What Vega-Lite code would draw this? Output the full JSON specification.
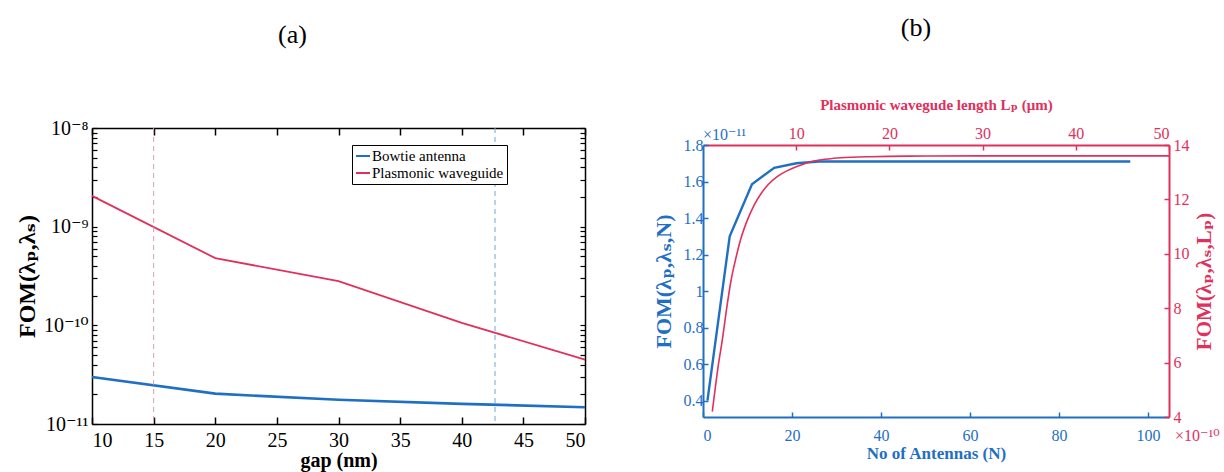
{
  "$schema": "https://vega.github.io/schema/vega-lite/v6.json",
  "background": "white",
  "padding": {"left": 15, "top": 15, "right": 5, "bottom": 2},
  "config": {
    "font": "Liberation Serif",
    "view": {"stroke": null},
    "axis": {"labelFont": "Liberation Serif, DejaVu Serif", "titleFont": "Liberation Serif, DejaVu Serif", "grid": false},
    "title": {"font": "Liberation Serif", "fontWeight": "normal", "fontSize": 26, "color": "black"}
  },
  "datasets": {
    "gap": [
      {"gap": 10, "fom": 3.0e-11, "series": "Bowtie antenna"},
      {"gap": 20, "fom": 2.03e-11, "series": "Bowtie antenna"},
      {"gap": 30, "fom": 1.76e-11, "series": "Bowtie antenna"},
      {"gap": 40, "fom": 1.6e-11, "series": "Bowtie antenna"},
      {"gap": 50, "fom": 1.48e-11, "series": "Bowtie antenna"},
      {"gap": 10, "fom": 2.05e-9, "series": "Plasmonic waveguide"},
      {"gap": 20, "fom": 4.8e-10, "series": "Plasmonic waveguide"},
      {"gap": 30, "fom": 2.8e-10, "series": "Plasmonic waveguide"},
      {"gap": 40, "fom": 1.06e-10, "series": "Plasmonic waveguide"},
      {"gap": 50, "fom": 4.5e-11, "series": "Plasmonic waveguide"}
    ],
    "antennas": [
      {"N": 1, "fom": 4.0e-12},
      {"N": 6, "fom": 1.30e-11},
      {"N": 11, "fom": 1.585e-11},
      {"N": 16, "fom": 1.675e-11},
      {"N": 21, "fom": 1.70e-11},
      {"N": 26, "fom": 1.71e-11},
      {"N": 31, "fom": 1.71e-11},
      {"N": 36, "fom": 1.71e-11},
      {"N": 41, "fom": 1.71e-11},
      {"N": 46, "fom": 1.71e-11},
      {"N": 51, "fom": 1.71e-11},
      {"N": 56, "fom": 1.71e-11},
      {"N": 61, "fom": 1.71e-11},
      {"N": 66, "fom": 1.71e-11},
      {"N": 71, "fom": 1.71e-11},
      {"N": 76, "fom": 1.71e-11},
      {"N": 81, "fom": 1.71e-11},
      {"N": 86, "fom": 1.71e-11},
      {"N": 91, "fom": 1.71e-11},
      {"N": 96, "fom": 1.71e-11}
    ],
    "waveguide": [
      {"Lp": 1.0, "fom": 4.2e-10},
      {"Lp": 1.6, "fom": 5.8e-10},
      {"Lp": 2.1, "fom": 6.9e-10},
      {"Lp": 2.5, "fom": 7.9e-10},
      {"Lp": 3.0, "fom": 9.0e-10},
      {"Lp": 3.5, "fom": 9.8e-10},
      {"Lp": 4.1, "fom": 1.06e-9},
      {"Lp": 4.6, "fom": 1.11e-9},
      {"Lp": 5.5, "fom": 1.18e-9},
      {"Lp": 6.2, "fom": 1.22e-9},
      {"Lp": 7.0, "fom": 1.255e-9},
      {"Lp": 8.0, "fom": 1.285e-9},
      {"Lp": 9.0, "fom": 1.305e-9},
      {"Lp": 10.0, "fom": 1.32e-9},
      {"Lp": 11.2, "fom": 1.335e-9},
      {"Lp": 12.5, "fom": 1.345e-9},
      {"Lp": 14.0, "fom": 1.351e-9},
      {"Lp": 16.0, "fom": 1.355e-9},
      {"Lp": 18.0, "fom": 1.357e-9},
      {"Lp": 22.0, "fom": 1.359e-9},
      {"Lp": 30.0, "fom": 1.36e-9},
      {"Lp": 40.0, "fom": 1.36e-9},
      {"Lp": 50.0, "fom": 1.36e-9}
    ]
  },
  "spacing": 61,
  "hconcat": [
    {
      "width": 493,
      "height": 296,
      "title": {"text": "(a)", "dx": -46, "offset": 70},
      "layer": [
        {
          "data": {"name": "gap"},
          "mark": {"type": "line"},
          "encoding": {
            "x": {"field": "gap", "type": "quantitative",
              "scale": {"domain": [10, 50], "nice": false, "zero": false},
              "axis": {"orient": "bottom", "values": [10, 15, 20, 25, 30, 35, 40, 45, 50], "title": "gap (nm)",
                "labelFontSize": 20, "titleFontSize": 20, "titleFontWeight": "bold", "labelColor": "black", "titleColor": "black",
                "domainColor": "black", "tickColor": "black", "domainWidth": 1.5, "tickWidth": 1.5, "tickSize": -7, "labelPadding": 13, "titlePadding": 0}},
            "y": {"field": "fom", "type": "quantitative",
              "scale": {"type": "log", "domain": [1e-11, 1e-8], "nice": false},
              "axis": {"orient": "left",
                "values": [1e-11, 2e-11, 3e-11, 4e-11, 5e-11, 6e-11, 7e-11, 8e-11, 9e-11, 1e-10, 2e-10, 3e-10, 4e-10, 5e-10, 6e-10, 7e-10, 8e-10, 9e-10, 1e-9, 2e-9, 3e-9, 4e-9, 5e-9, 6e-9, 7e-9, 8e-9, 9e-9, 1e-8],
                "labelExpr": "abs(log(datum.value)/LN10 - round(log(datum.value)/LN10)) > 0.001 ? '' : round(log(datum.value)/LN10) == -8 ? '10⁻⁸' : round(log(datum.value)/LN10) == -9 ? '10⁻⁹' : round(log(datum.value)/LN10) == -10 ? '10⁻¹⁰' : '10⁻¹¹'",
                "title": "FOM(λₚ,λₛ)", "titleFontSize": 24, "titleFontWeight": "bold", "titleColor": "black",
                "labelFontSize": 20, "labelColor": "black", "domainColor": "black", "tickColor": "black", "domainWidth": 1.5, "tickWidth": 1.2,
                "tickSize": -5, "labelPadding": 9, "titlePadding": 4, "labelOverlap": false}},
            "strokeWidth": {"condition": {"test": "datum.series == 'Bowtie antenna'", "value": 2.6}, "value": 1.8},
            "color": {"field": "series", "type": "nominal",
              "scale": {"domain": ["Bowtie antenna", "Plasmonic waveguide"], "range": ["#1f6fc4", "#e0305c"]},
              "legend": {"title": null, "orient": "none", "legendX": 260, "legendY": 17, "strokeColor": "black", "fillColor": "white",
                "padding": 3, "symbolType": "stroke", "symbolSize": 196, "symbolStrokeWidth": 2, "labelFontSize": 15,
                "labelFont": "Liberation Serif", "labelColor": "black", "rowPadding": 1, "labelOffset": 1, "labelLimit": 300}}
          }
        },
        {
          "data": {"name": "gap"},
          "mark": {"type": "line", "opacity": 0},
          "encoding": {
            "x": {"field": "gap", "type": "quantitative",
              "axis": {"orient": "top", "values": [10, 15, 20, 25, 30, 35, 40, 45, 50], "labels": false, "title": null,
                "domainColor": "black", "tickColor": "black", "domainWidth": 1.5, "tickWidth": 1.5, "tickSize": -7}},
            "y": {"field": "fom", "type": "quantitative",
              "axis": {"orient": "right", "labels": false, "title": null,
                "values": [1e-11, 2e-11, 3e-11, 4e-11, 5e-11, 6e-11, 7e-11, 8e-11, 9e-11, 1e-10, 2e-10, 3e-10, 4e-10, 5e-10, 6e-10, 7e-10, 8e-10, 9e-10, 1e-9, 2e-9, 3e-9, 4e-9, 5e-9, 6e-9, 7e-9, 8e-9, 9e-9, 1e-8],
                "domainColor": "black", "tickColor": "black", "domainWidth": 1.5, "tickWidth": 1.2, "tickSize": -5}}
          }
        },
        {
          "data": {"values": [{}]},
          "mark": {"type": "rule", "color": "#d8a0aa", "strokeDash": [5, 4], "strokeWidth": 1},
          "encoding": {"x": {"datum": 15, "type": "quantitative", "axis": null}}
        },
        {
          "data": {"values": [{}]},
          "mark": {"type": "rule", "color": "#6fa8d8", "strokeDash": [5, 4], "strokeWidth": 1},
          "encoding": {"x": {"datum": 42.7, "type": "quantitative", "axis": null}}
        }
      ],
      "resolve": {"axis": {"x": "independent", "y": "independent"}}
    },
    {
      "width": 466,
      "height": 289,
      "title": {"text": "(b)", "dx": -20, "offset": 56},
      "layer": [
        {
          "layer": [
            {
              "data": {"name": "antennas"},
              "mark": {"type": "line", "color": "#1f6fc4", "strokeWidth": 2.4},
              "encoding": {
                "x": {"field": "N", "type": "quantitative",
                  "scale": {"domain": [0, 104.7], "nice": false, "zero": false},
                  "axis": {"orient": "bottom", "values": [0, 20, 40, 60, 80, 100], "title": "No of Antennas (N)",
                    "labelFontSize": 16, "titleFontSize": 17, "titleFontWeight": "bold", "labelColor": "#1f6fc4", "titleColor": "#1f6fc4",
                    "domainColor": "#1f6fc4", "tickColor": "#1f6fc4", "domainWidth": 2, "tickWidth": 1.5, "tickSize": -5, "labelPadding": 15, "titlePadding": 2}},
                "y": {"field": "fom", "type": "quantitative",
                  "scale": {"domain": [3.1e-12, 1.8e-11], "nice": false, "zero": false, "range": [289, 17]},
                  "axis": {"orient": "left", "values": [4e-12, 6e-12, 8e-12, 1e-11, 1.2e-11, 1.4e-11, 1.6e-11, 1.8e-11],
                    "labelExpr": "format(datum.value*1e11, '~g')", "labelOverlap": false,
                    "title": "FOM(λₚ,λₛ,N)", "titleFontSize": 22, "titleFontWeight": "bold", "titleColor": "#1f6fc4",
                    "labelFontSize": 16, "labelColor": "#1f6fc4", "domainColor": "#1f6fc4", "tickColor": "#1f6fc4", "domainWidth": 2, "tickWidth": 1.5,
                    "tickSize": -5, "labelPadding": 5, "titlePadding": 8}}
              }
            },
            {
              "data": {"values": [{"label": "×10⁻¹¹"}]},
              "mark": {"type": "text", "color": "#1f6fc4", "fontSize": 16, "align": "left", "baseline": "bottom", "dy": -2, "font": "Liberation Serif, DejaVu Serif"},
              "encoding": {
                "x": {"datum": 0, "type": "quantitative"},
                "y": {"datum": 1.8e-11, "type": "quantitative"},
                "text": {"field": "label"}
              }
            }
          ]
        },
        {
          "layer": [
            {
              "data": {"name": "waveguide"},
              "mark": {"type": "line", "color": "#e0305c", "strokeWidth": 1.6, "interpolate": "monotone"},
              "encoding": {
                "x": {"field": "Lp", "type": "quantitative",
                  "scale": {"domain": [0, 50], "nice": false, "zero": false},
                  "axis": {"orient": "top", "offset": -17, "values": [10, 20, 30, 40, 50], "title": "Plasmonic wavegude length Lₚ (μm)",
                    "labelFontSize": 16, "titleFontSize": 15, "titleFontWeight": "bold", "labelColor": "#e0305c", "titleColor": "#e0305c",
                    "domainColor": "#e0305c", "tickColor": "#e0305c", "domainWidth": 2, "tickWidth": 1.5, "tickSize": -5, "labelPadding": 9, "titlePadding": 13}},
                "y": {"field": "fom", "type": "quantitative",
                  "scale": {"domain": [4e-10, 1.4e-9], "nice": false, "zero": false, "range": [289, 17]},
                  "axis": {"orient": "right", "values": [4e-10, 6e-10, 8e-10, 1e-9, 1.2e-9, 1.4e-9],
                    "labelExpr": "format(datum.value*1e10, '~g')", "labelOverlap": false,
                    "title": "FOM(λₚ,λₛ,Lₚ)", "titleFontSize": 21, "titleFontWeight": "bold", "titleColor": "#e0305c", "titleAngle": 270, "titleBaseline": "top",
                    "labelFontSize": 16, "labelColor": "#e0305c", "domainColor": "#e0305c", "tickColor": "#e0305c", "domainWidth": 2, "tickWidth": 1.5,
                    "tickSize": -5, "labelPadding": 9, "titlePadding": 4}}
              }
            },
            {
              "data": {"values": [{"label": "×10⁻¹⁰"}]},
              "mark": {"type": "text", "color": "#e0305c", "fontSize": 16, "align": "left", "baseline": "top", "dx": 6, "dy": 11, "font": "Liberation Serif, DejaVu Serif"},
              "encoding": {
                "x": {"datum": 50, "type": "quantitative"},
                "y": {"datum": 4e-10, "type": "quantitative"},
                "text": {"field": "label"}
              }
            }
          ]
        }
      ],
      "resolve": {"scale": {"x": "independent", "y": "independent"}}
    }
  ]
}
